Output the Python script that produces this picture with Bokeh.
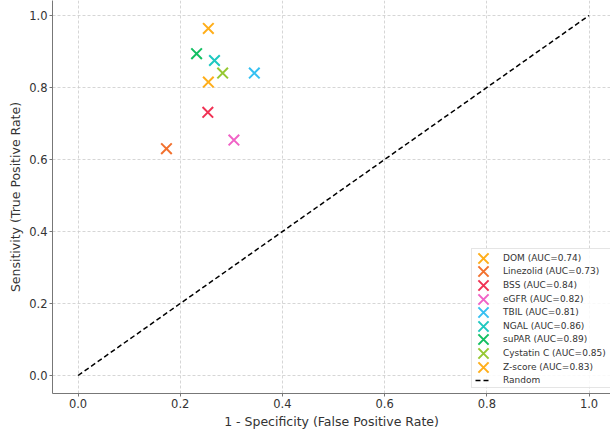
from bokeh.plotting import figure
from bokeh.models import FixedTicker, PrintfTickFormatter, Legend, LegendItem
from bokeh.embed import file_html
from bokeh.resources import INLINE

# Data
names = ["DOM", "Linezolid", "BSS", "eGFR", "TBIL", "NGAL", "suPAR", "Cystatin C", "Z-score"]
auc = [0.74, 0.73, 0.84, 0.82, 0.81, 0.86, 0.89, 0.85, 0.83]
fpr = [0.255, 0.173, 0.254, 0.305, 0.345, 0.267, 0.232, 0.283, 0.255]
tpr = [0.964, 0.630, 0.731, 0.654, 0.840, 0.875, 0.894, 0.840, 0.815]
colors = ["#ffae1a", "#f2712e", "#f03254", "#f062c6", "#36c0f2", "#1ec8c0", "#12bf62", "#96c832", "#ffae1a"]
random_x = [0.0, 1.0]
random_y = [0.0, 1.0]
ticks = [0.0, 0.2, 0.4, 0.6, 0.8, 1.0]

FONT = "DejaVu Sans"

p = figure(width=610, height=432, x_range=(-0.05, 1.042), y_range=(-0.05, 1.0417),
           output_backend="svg", toolbar_location=None,
           min_border_left=52, min_border_right=0, min_border_top=0, min_border_bottom=39)
p.outline_line_color = None
p.background_fill_color = "white"
p.border_fill_color = "white"

items = []
for n, a, x, y, c in zip(names, auc, fpr, tpr, colors):
    r = p.scatter([x], [y], marker="x", size=15, line_width=2, color=c)
    items.append(LegendItem(label=f"{n} (AUC={a:.2f})", renderers=[r]))

rl = p.line(random_x, random_y, line_color="black", line_width=1.5, line_dash="5 3")
items.append(LegendItem(label="Random", renderers=[rl]))

for ax in (p.xaxis, p.yaxis):
    ax.ticker = FixedTicker(ticks=ticks)
    ax.formatter = PrintfTickFormatter(format="%.1f")
    ax.major_label_text_font = FONT
    ax.major_label_text_font_size = "11.5px"
    ax.major_label_text_color = "#333333"
    ax.axis_label_text_font = FONT
    ax.axis_label_text_font_size = "12.5px"
    ax.axis_label_text_font_style = "normal"
    ax.axis_label_text_color = "#333333"
    ax.axis_line_color = "#777777"
    ax.axis_line_width = 1
    ax.major_tick_line_color = "#777777"
    ax.major_tick_out = 3
    ax.major_tick_in = 0
    ax.minor_tick_line_color = None
    ax.major_label_standoff = 2
    ax.axis_label_standoff = 3

p.xaxis.axis_label = "1 - Specificity (False Positive Rate)"
p.yaxis.axis_label = "Sensitivity (True Positive Rate)"

for g in (p.xgrid, p.ygrid):
    g.grid_line_color = "#cccccc"
    g.grid_line_width = 0.8
    g.grid_line_dash = "3 2"

# legend frame (background + border only)
dummy = p.scatter([], [], marker="x", size=1, line_alpha=0, fill_alpha=0)
frame_legend = Legend(items=[LegendItem(label=" ", renderers=[dummy])],
                      location=(419, 5), glyph_width=150, glyph_height=138,
                      label_height=138, label_standoff=0, padding=0, margin=0,
                      label_text_alpha=0, border_line_color="#cccccc",
                      background_fill_alpha=0.85)
p.add_layout(frame_legend, "center")

# one legend per row so that the x markers keep full size at tight row spacing
FRAME_BOTTOM_PX = 393
FIRST_ROW_PX = 257.7
ROW_STEP_PX = 13.6
for k, it in enumerate(items):
    cy = FIRST_ROW_PX + ROW_STEP_PX * k
    if k < len(items) - 1:
        gw, gh, vx, standoff = 36, 36, 413, 2
    else:
        gw, gh, vx, standoff = 14, 14, 423, 14
    vy = FRAME_BOTTOM_PX - (cy + gh / 2)
    lg = Legend(items=[it], location=(vx, vy), glyph_width=gw, glyph_height=gh,
                label_height=gh, spacing=0, padding=0, margin=0, label_standoff=standoff,
                label_text_font=FONT, label_text_font_size="9px", label_text_color="#333333",
                border_line_color=None, background_fill_alpha=0)
    p.add_layout(lg, "center")

open("out.html", "w").write(file_html(p, INLINE))
